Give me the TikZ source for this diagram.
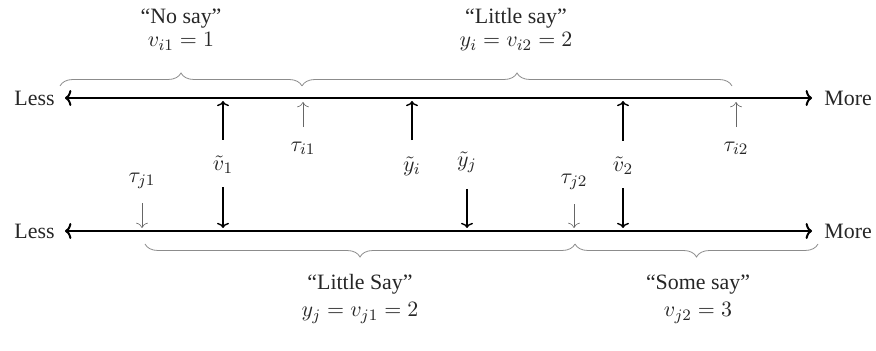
\documentclass[tikz,border=0pt,11pt]{standalone}
\usepackage[no-math]{fontspec}
\setmainfont{Liberation Serif}
\usepackage{tikz}
\usetikzlibrary{arrows.meta, positioning, decorations.pathreplacing}

\begin{document}
\begin{tikzpicture}[
  x=0.5pt, y=-0.5pt, >={To[length=2.6pt, width=6pt]},
  axis/.style={<->, line width=1pt, >={To[length=3.2pt, width=8pt]}},
  lat/.style={->, line width=0.7pt, shorten <=7pt},
  cut/.style={->, line width=0.3pt, black!60, shorten <=6pt},
  brc/.style={decorate, decoration={brace, amplitude=6.5pt}, black!45, line width=0.4pt},
  lbl/.style={align=center, text=black!85, inner sep=1pt},
  cat/.style={lbl, inner sep=0pt, anchor=base}]
\useasboundingbox (0,0) rectangle (876,351);

% scale of voter i
\coordinate (ul) at (65,98);
\coordinate (ur) at (812,98);
\node[lbl, anchor=east] (lessU) at (57,98) {Less};
\node[lbl, anchor=west] (moreU) at (822,98) {More};
\draw[axis] (ul) -- (ur);

% scale of voter j
\coordinate (ll) at (65,231);
\coordinate (lr) at (812,231);
\node[lbl, anchor=east] (lessL) at (57,231) {Less};
\node[lbl, anchor=west] (moreL) at (822,231) {More};
\draw[axis] (ll) -- (lr);

% categories of i
\draw[brc] (60,86) -- (302,86);
\draw[brc] (302,86) -- (732,86);
\node[cat] (nosay) at (181,24) {``No say''};
\node[cat] (vione) at (181,47) {$v_{i1}=1$};
\node[cat] (litsayi) at (516,24) {``Little say''};
\node[cat] (vitwo) at (516,47) {$y_i=v_{i2}=2$};

% categories of j
\draw[brc] (575,244) -- (145,244);
\draw[brc] (818,244) -- (575,244);
\node[cat] (litsayj) at (360,290) {``Little Say''};
\node[cat] (vjone) at (360,317) {$y_j=v_{j1}=2$};
\node[cat] (somesay) at (698,290) {``Some say''};
\node[cat] (vjtwo) at (698,317) {$v_{j2}=3$};

% latent positions and thresholds
\node[lbl] (vt1) at (223,165) {$\tilde{v}_1$};
\node[lbl] (yti) at (412,166) {$\tilde{y}_i$};
\node[lbl] (ytj) at (467,162) {$\tilde{y}_j$};
\node[lbl] (vt2) at (623,166) {$\tilde{v}_2$};
\node[lbl] (tauione) at (303,148) {$\tau_{i1}$};
\node[lbl] (tauitwo) at (736,148) {$\tau_{i2}$};
\node[lbl] (taujone) at (142,181) {$\tau_{j1}$};
\node[lbl] (taujtwo) at (574,182) {$\tau_{j2}$};

\coordinate (vt1u) at (223,101);
\coordinate (ytiu) at (412,101);
\coordinate (vt2u) at (623,101);
\coordinate (vt1d) at (223,228);
\coordinate (ytjd) at (467,228);
\coordinate (vt2d) at (623,228);
\coordinate (tauioneu) at (303,102);
\coordinate (tauitwou) at (736,102);
\coordinate (taujoned) at (142,228);
\coordinate (taujtwod) at (574,228);

\foreach \a/\b in {vt1/vt1u, yti/ytiu, vt2/vt2u, ytj/ytjd}
  \draw[lat] (\a) -- (\b);
\foreach \a/\b in {vt1/vt1d, vt2/vt2d}
  \draw[lat, shorten <=5.5pt] (\a) -- (\b);
\foreach \a/\b in {tauione/tauioneu, tauitwo/tauitwou, taujone/taujoned, taujtwo/taujtwod}
  \draw[cut] (\a) -- (\b);
\end{tikzpicture}
\end{document}
